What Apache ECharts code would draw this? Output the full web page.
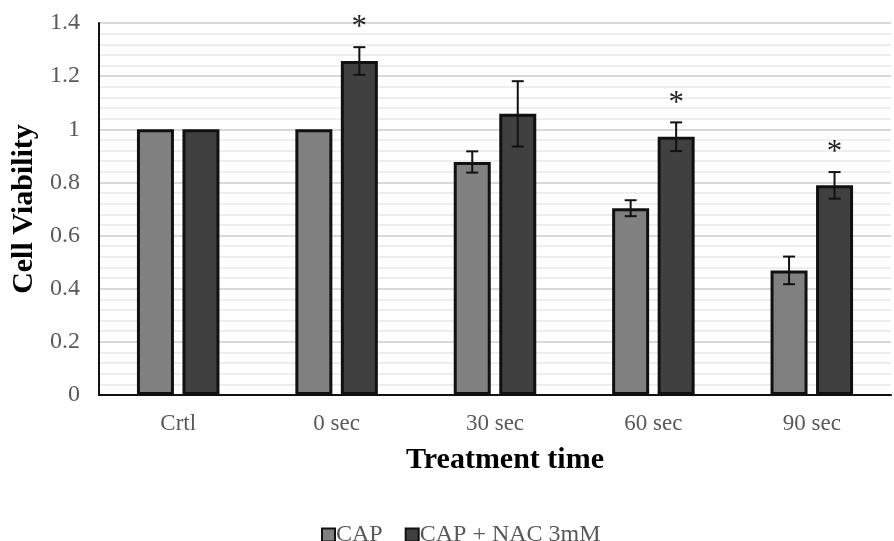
<!DOCTYPE html>
<html>
<head>
<meta charset="utf-8">
<script src="https://cdn.jsdelivr.net/npm/echarts@6/dist/echarts.min.js"></script>
<style>
  html, body { margin: 0; padding: 0; background: #fff; }
  #main { width: 894px; height: 541px; }
</style>
</head>
<body>
<div id="main"></div>
<script>
  var categories = ["Crtl", "0 sec", "30 sec", "60 sec", "90 sec"];
  var capValues = [1, 1, 0.877, 0.703, 0.469];
  var capErrors = [0, 0, 0.04, 0.03, 0.052];
  var nacValues = [1, 1.257, 1.058, 0.972, 0.789];
  var nacErrors = [0, 0.052, 0.123, 0.054, 0.05];
  var nacStars = [false, true, false, true, true];

  var font = "Liberation Serif";
  var barW = 37;
  var half = 22.75; // distance from category centre to each bar centre

  var chartDom = document.getElementById("main");
  var myChart = echarts.init(chartDom);

  function errorSeries(name, values, errors, stars, offset) {
    return {
      name: name,
      type: "custom",
      z: 5,
      silent: true,
      data: values.map(function (v, i) { return [i, v, errors[i], stars ? (stars[i] ? 1 : 0) : 0]; }),
      renderItem: function (params, api) {
        var idx = api.value(0);
        var v = api.value(1);
        var e = api.value(2);
        var star = api.value(3);
        var top = api.coord([idx, v + e]);
        var bot = api.coord([idx, v - e]);
        var x = top[0] + offset;
        var children = [];
        if (e > 0) {
          var st = { stroke: "#111", lineWidth: 2 };
          children.push({ type: "line", shape: { x1: x, y1: top[1], x2: x, y2: bot[1] }, style: st });
          children.push({ type: "line", shape: { x1: x - 6, y1: top[1], x2: x + 6, y2: top[1] }, style: st });
          children.push({ type: "line", shape: { x1: x - 6, y1: bot[1], x2: x + 6, y2: bot[1] }, style: st });
        }
        if (star) {
          children.push({
            type: "text",
            style: {
              x: x, y: top[1] - 19, text: "*",
              fill: "#222", font: "31px " + font,
              align: "center", verticalAlign: "middle"
            }
          });
        }
        return { type: "group", children: children };
      }
    };
  }

  var option = {
    animation: false,
    grid: { left: 99, top: 23, width: 792, height: 372, containLabel: false },
    legend: {
      top: 518,
      left: 316,
      data: ["CAP", "CAP + NAC 3mM"],
      itemWidth: 13,
      itemHeight: 13,
      itemGap: 22,
      icon: "rect",
      itemStyle: { borderColor: "#111", borderWidth: 2 },
      textStyle: { fontFamily: font, fontSize: 24, color: "#595959", padding: [0, 0, 0, -4] }
    },
    xAxis: {
      type: "category",
      data: categories,
      name: "Treatment time",
      nameLocation: "middle",
      nameGap: 50,
      nameTextStyle: { fontFamily: font, fontSize: 30, fontWeight: "bold", color: "#000", padding: [0, 0, 0, 20] },
      axisLine: { lineStyle: { color: "#111", width: 2 } },
      axisTick: { show: false },
      axisLabel: { fontFamily: font, fontSize: 23, color: "#595959", margin: 17 }
    },
    yAxis: {
      type: "value",
      min: 0,
      max: 1.4,
      interval: 0.2,
      name: "Cell Viability",
      nameLocation: "middle",
      nameGap: 59,
      nameTextStyle: { fontFamily: font, fontSize: 30, fontWeight: "bold", color: "#000" },
      axisLine: { show: true, lineStyle: { color: "#111", width: 2 } },
      axisTick: { show: false },
      axisLabel: { fontFamily: font, fontSize: 24, color: "#595959", margin: 19 },
      splitLine: { lineStyle: { color: "#d9d9d9", width: 2 } },
      minorTick: { show: false, splitNumber: 5 },
      minorSplitLine: { show: true, lineStyle: { color: "#eeeeee", width: 2 } }
    },
    series: [
      {
        name: "CAP",
        type: "bar",
        data: capValues,
        barWidth: barW,
        barGap: "23%",
        itemStyle: { color: "#808080", borderColor: "#111", borderWidth: 3 }
      },
      {
        name: "CAP + NAC 3mM",
        type: "bar",
        data: nacValues,
        barWidth: barW,
        barGap: "23%",
        itemStyle: { color: "#404040", borderColor: "#111", borderWidth: 3 }
      },
      errorSeries("CAP err", capValues, capErrors, null, -half),
      errorSeries("NAC err", nacValues, nacErrors, nacStars, half)
    ]
  };

  myChart.setOption(option);
</script>
</body>
</html>
